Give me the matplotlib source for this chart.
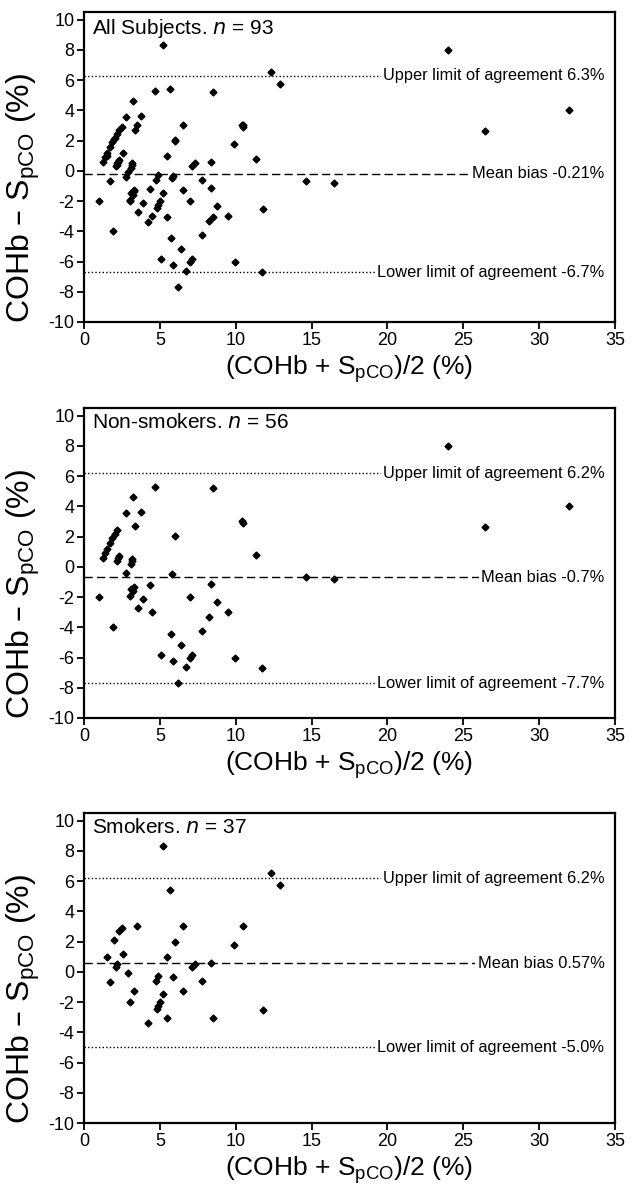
import numpy as np
import matplotlib
matplotlib.use("Agg")
import matplotlib.pyplot as plt

plt.rcParams['font.family'] = ['Liberation Sans', 'DejaVu Sans']
plt.rcParams['mathtext.default'] = 'regular'
plt.rcParams['axes.unicode_minus'] = False

# non-smokers: mean (%) and difference (%)
nonsmoker_x = [4.66, 8.53, 3.25, 2.75, 3.78, 3.34, 10.4, 10.5, 5.98, 2.15,
               2.02, 1.87, 1.71, 1.54, 1.23, 2.31, 2.15, 3.19, 3.08, 2.77,
               5.78, 11.34, 14.6, 16.5, 4.35, 3.32, 3.21, 3.0, 0.97, 3.87,
               6.97, 8.35, 8.75, 3.56, 4.46, 9.52, 8.22, 1.9, 7.8, 5.72,
               6.4, 5.1, 5.85, 7.0, 7.15, 9.95, 6.7, 6.18, 11.7, 24.0,
               32.0, 26.4, 3.1, 2.25, 1.4, 3.15]
nonsmoker_y = [5.26, 5.21, 4.63, 3.57, 3.62, 2.69, 3.0, 2.9, 2.04, 2.42,
               2.2, 1.91, 1.59, 1.19, 0.58, 0.74, 0.4, 0.54, 0.2, -0.39,
               -0.48, 0.81, -0.7, -0.83, -1.19, -1.33, -1.6, -1.96, -2.03, -2.16,
               -2.0, -1.17, -2.36, -2.75, -2.97, -2.97, -3.33, -3.97, -4.27, -4.47,
               -5.2, -5.82, -6.25, -6.0, -5.85, -6.05, -6.65, -7.66, -6.7, 7.98,
               4.0, 2.62, -1.45, 0.55, 0.9, 0.35]

# smokers
smoker_x = [5.2, 12.3, 12.95, 5.7, 3.5, 6.5, 10.5, 2.3, 2.5, 2.0,
            6.0, 9.9, 2.6, 1.5, 5.5, 2.2, 2.1, 7.1, 7.3, 8.4,
            2.9, 4.9, 4.75, 5.85, 1.7, 7.8, 3.3, 6.5, 5.2, 3.0,
            5.0, 4.9, 4.8, 11.8, 5.5, 8.5, 4.2]
smoker_y = [8.35, 6.5, 5.75, 5.4, 3.0, 3.0, 3.0, 2.7, 2.9, 2.1,
            2.0, 1.8, 1.2, 1.0, 1.0, 0.5, 0.3, 0.3, 0.5, 0.56,
            -0.1, -0.3, -0.6, -0.35, -0.7, -0.6, -1.3, -1.25, -1.5, -2.0,
            -2.0, -2.25, -2.45, -2.55, -3.05, -3.05, -3.4]

titles = ["All Subjects.", "Non-smokers.", "Smokers."]
counts = [93, 56, 37]
upper_limits = [6.3, 6.2, 6.2]
mean_biases = [-0.21, -0.7, 0.57]
lower_limits = [-6.7, -7.7, -5.0]
upper_labels = ["6.3%", "6.2%", "6.2%"]
mean_labels = ["-0.21%", "-0.7%", "0.57%"]
lower_labels = ["-6.7%", "-7.7%", "-5.0%"]

groups = [
    (nonsmoker_x + smoker_x, nonsmoker_y + smoker_y),
    (nonsmoker_x, nonsmoker_y),
    (smoker_x, smoker_y),
]

W, H = 636, 1188
fig = plt.figure(figsize=(W / 100, H / 100), dpi=100)

tops = [12, 408, 813]
left, right = 84, 615
ax_h = 310
text_end = 34.3
dotted = (0, (1, 1.6))
dashed = (0, (6, 3))

for i, (xs, ys) in enumerate(groups):
    ax = fig.add_axes([left / W, 1 - (tops[i] + ax_h) / H, (right - left) / W, ax_h / H])
    ax.plot(xs, ys, 'D', color='black', markersize=3.5, zorder=3)

    ax.plot([0, text_end], [upper_limits[i]] * 2, color='black', lw=1, ls=dotted, zorder=1)
    ax.plot([0, text_end], [mean_biases[i]] * 2, color='black', lw=1, ls=dashed, zorder=1)
    ax.plot([0, text_end], [lower_limits[i]] * 2, color='black', lw=1, ls=dotted, zorder=1)

    box = dict(facecolor='white', edgecolor='none', pad=1.5)
    ax.text(text_end, upper_limits[i], "Upper limit of agreement " + upper_labels[i],
            ha='right', va='center', fontsize=11.8, bbox=box, zorder=2)
    ax.text(text_end, mean_biases[i], "Mean bias " + mean_labels[i],
            ha='right', va='center', fontsize=11.8, bbox=box, zorder=2)
    ax.text(text_end, lower_limits[i], "Lower limit of agreement " + lower_labels[i],
            ha='right', va='center', fontsize=11.8, bbox=box, zorder=2)

    ax.text(0.015, 0.985, titles[i] + " $\\it{n}$ = " + str(counts[i]),
            transform=ax.transAxes, ha='left', va='top', fontsize=15)

    ax.set_xlim(0, 35)
    ax.set_ylim(-10, 10.5)
    ax.set_xticks(np.arange(0, 36, 5))
    ax.set_yticks(np.arange(-10, 11, 2))
    for sp in ax.spines.values():
        sp.set_linewidth(1.6)
    ax.tick_params(direction='out', length=5, width=1.3, labelsize=13, pad=2)
    ax.set_xlabel("(COHb + S$_{pCO}$)/2 (%)", fontsize=19, labelpad=3)
    ax.set_ylabel("COHb \u2013 S$_{pCO}$ (%)", fontsize=23)
    ax.yaxis.set_label_coords(-0.079, 0.40)

fig.savefig("out.png", dpi=100)
